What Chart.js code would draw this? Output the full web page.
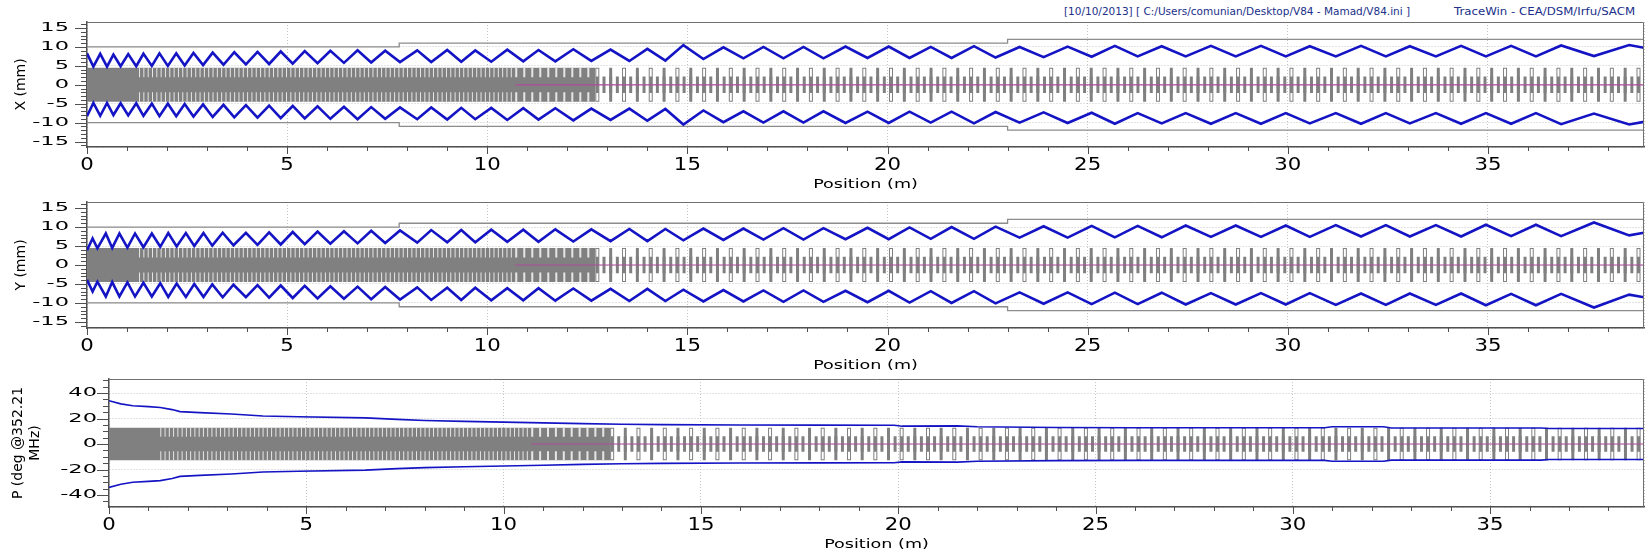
<!DOCTYPE html>
<html>
<head>
<meta charset="utf-8">
<title>TraceWin envelopes</title>
<script src="https://cdn.jsdelivr.net/npm/chart.js@4.4.1/dist/chart.umd.min.js"></script>
<style>
  body { margin: 0; background: #fff; }
  #page { position: relative; width: 1650px; height: 553px; overflow: hidden; background: #fff; }
  #page canvas { position: absolute; left: 0; }
  .head { position: absolute; top: 5px; font: 10.5px "DejaVu Sans", Verdana, sans-serif; color: #20308a;
          white-space: nowrap; transform-origin: 0 0; }
</style>
</head>
<body>
<div id="page">
  <div class="head" style="left:1064px">[10/10/2013] [ C:/Users/comunian/Desktop/V84 - Mamad/V84.ini ]</div>
  <div class="head" style="left:1454px; transform: scaleX(1.12)">TraceWin - CEA/DSM/Irfu/SACM</div>
  <canvas id="chartX" width="1650" height="195" style="top:0"></canvas>
  <canvas id="chartY" width="1650" height="196" style="top:180px"></canvas>
  <canvas id="chartP" width="1650" height="198" style="top:357px"></canvas>
</div>
<script>
// beam envelope: position (m) and half size (mm / deg)
const xEnvPos = [0, 0.16, 0.33, 0.5, 0.66, 0.84, 1.03, 1.23, 1.41, 1.62, 1.81, 2.02, 2.23, 2.44, 2.66, 2.9, 3.14, 3.41,
  3.68, 3.97, 4.26, 4.55, 4.84, 5.14, 5.44, 5.76, 6.08, 6.42, 6.76, 7.1, 7.45, 7.82, 8.25, 8.6, 9.0, 9.35, 9.7, 10.1,
  10.5, 10.9, 11.28, 11.7, 12.15, 12.6, 13.08, 13.55, 14.0, 14.45, 14.9, 15.4, 15.9, 16.4, 16.9, 17.4, 17.9, 18.4,
  18.95, 19.5, 20.03, 20.55, 21.08, 21.6, 22.16, 22.7, 23.3, 23.9, 24.5, 25.1, 25.68, 26.25, 26.85, 27.45, 28.08,
  28.7, 29.33, 29.95, 30.55, 31.2, 31.83, 32.45, 33.05, 33.7, 34.33, 34.95, 35.58, 36.2, 36.83, 37.65, 38.53, 38.9];
const xEnvVal = [8.3, 4.8, 8.2, 4.8, 8.0, 4.9, 8.1, 4.9, 8.2, 5.0, 8.3, 5.0, 8.3, 5.1, 8.4, 5.2, 8.5, 5.3,
  8.6, 5.4, 8.7, 5.5, 8.8, 5.6, 8.9, 5.7, 9.0, 5.8, 9.1, 5.9, 9.0, 6.0, 9.1, 6.0, 9.2, 6.1, 9.1, 6.1,
  9.3, 6.2, 9.2, 6.2, 9.4, 6.3, 9.3, 6.3, 9.5, 6.4, 10.5, 6.8, 9.9, 7.0, 10.0, 7.0, 10.0, 7.0,
  10.1, 7.1, 10.1, 7.1, 10.0, 7.1, 10.2, 7.2, 10.0, 7.3, 10.1, 7.4, 10.3, 7.5, 10.2, 7.5, 10.3,
  7.5, 10.3, 7.5, 10.2, 7.5, 10.3, 7.5, 10.2, 7.5, 10.3, 7.5, 10.3, 7.5, 10.4, 7.6, 10.5, 9.8];

const yEnvPos = [0, 0.14, 0.26, 0.47, 0.63, 0.81, 1.01, 1.2, 1.41, 1.62, 1.83, 2.03, 2.24, 2.47, 2.68, 2.91, 3.13, 3.39,
  3.66, 3.97, 4.26, 4.55, 4.84, 5.14, 5.44, 5.76, 6.08, 6.42, 6.76, 7.1, 7.45, 7.82, 8.25, 8.6, 9.0, 9.35, 9.7, 10.1,
  10.5, 10.9, 11.28, 11.7, 12.15, 12.6, 13.08, 13.55, 14.0, 14.45, 14.9, 15.4, 15.9, 16.4, 16.9, 17.4, 17.9, 18.4,
  18.95, 19.5, 20.03, 20.55, 21.08, 21.6, 22.16, 22.7, 23.3, 23.9, 24.5, 25.1, 25.68, 26.25, 26.85, 27.45, 28.08,
  28.7, 29.33, 29.95, 30.55, 31.2, 31.83, 32.45, 33.05, 33.7, 34.33, 34.95, 35.58, 36.2, 36.83, 37.65, 38.53, 38.9];
const yEnvVal = [3.9, 7.0, 4.4, 8.3, 4.5, 8.3, 4.6, 8.3, 4.7, 8.3, 4.8, 8.4, 4.9, 8.4, 5.0, 8.4, 5.1, 8.5,
  5.2, 8.5, 5.3, 8.6, 5.4, 8.7, 5.5, 8.8, 5.6, 8.9, 5.7, 9.0, 5.8, 9.1, 5.9, 9.2, 6.0, 9.2, 6.0, 9.3,
  6.1, 9.3, 6.1, 9.4, 6.2, 9.4, 6.3, 9.5, 6.3, 9.5, 6.5, 9.6, 6.6, 9.6, 6.7, 9.7, 6.7, 9.7,
  6.8, 9.8, 6.8, 9.9, 6.9, 10.0, 6.9, 10.1, 7.2, 10.2, 7.2, 10.3, 7.3, 10.3, 7.3, 10.4, 7.4,
  10.4, 7.4, 10.4, 7.4, 10.5, 7.5, 10.5, 7.5, 10.5, 7.5, 10.6, 7.6, 10.6, 7.6, 11.2, 7.8, 8.5];

const pEnvPos = [0, 0.3, 0.6, 1.0, 1.3, 1.6, 1.8, 2.3, 3.1, 3.9, 4.8, 6.5, 7.3, 8.0, 9.0, 10.0, 11.0, 12.0, 13.0, 14.0,
  16.0, 18.0, 19.9, 20.1, 21.5, 22.0, 24.0, 26.0, 30.8, 31.0, 32.3, 32.5, 36.3, 36.5, 38.9];
const pEnvVal = [34, 31.5, 30, 29.3, 28.7, 27, 25.4, 24.6, 23.5, 22, 21.4, 20.5, 19.3, 18.5, 17.8, 17.2, 16.6, 16.0, 15.5, 15.2,
  14.9, 14.8, 14.7, 14.0, 14.2, 13.5, 13.0, 12.8, 12.8, 13.5, 13.5, 12.6, 12.6, 12.2, 12.2];

// aperture of the line (mm)
const aperPos = [0, 7.8, 7.8, 23, 23, 38.9];
const aperVal = [10, 10, 11, 11, 12, 12];

// lattice sections (m) and the element period in each one
const sectionPos = [0, 1.3, 10.7, 12.7, 38.9];
const sectionPeriod = [0, 0.108, 0.2, 0.667];

const GRAY = '#808080', BLUE = '#1414c4', MAGENTA = '#b04a9e', APER = '#8c8c8c', GRID = '#c4c4c4', AXIS = '#505050';
const FONT = '"DejaVu Sans", Verdana, sans-serif';

const pts = (pos, val, s) => pos.map((p, i) => ({ x: p, y: s * val[i] }));
const seg = (a, b, y) => [{ x: a, y: y }, { x: b, y: y }];
const pxPerM = c => c.scales.x.getPixelForValue(1) - c.scales.x.getPixelForValue(0);
const pxPerU = c => c.scales.y.getPixelForValue(0) - c.scales.y.getPixelForValue(1);

function wideText(ctx, text, x, y, sx, align) {
  ctx.save();
  ctx.translate(x, y);
  ctx.scale(sx, 1);
  ctx.textAlign = align;
  ctx.fillText(text, 0, 0);
  ctx.restore();
}

// tick marks, tick labels (wide, like the original screenshot), x title and top-right frame
const axisDecor = {
  id: 'axisDecor',
  afterDraw(chart, args, o) {
    const { ctx, chartArea: a, scales: { x, y } } = chart;
    ctx.save();
    ctx.strokeStyle = AXIS;
    ctx.lineWidth = 1;
    ctx.beginPath();
    for (let v = 0; v <= x.max; v++) {
      const px = Math.round(x.getPixelForValue(v)) + 0.5;
      ctx.moveTo(px, a.bottom);
      ctx.lineTo(px, a.bottom + (v % 5 === 0 ? 7 : 4));
    }
    for (let v = Math.ceil(y.min / o.minor) * o.minor; v <= y.max; v += o.minor) {
      const py = Math.round(y.getPixelForValue(v)) + 0.5;
      ctx.moveTo(a.left - (v % o.major === 0 ? 12 : 6), py);
      ctx.lineTo(a.left, py);
    }
    ctx.stroke();
    ctx.strokeStyle = '#707070';
    ctx.beginPath();
    ctx.moveTo(a.left, a.top + 0.5);
    ctx.lineTo(a.right - 0.5, a.top + 0.5);
    ctx.lineTo(a.right - 0.5, a.bottom);
    ctx.stroke();

    ctx.fillStyle = '#000';
    ctx.textBaseline = 'middle';
    ctx.font = '17px ' + FONT;
    for (let v = 0; v <= x.max; v += 5) {
      wideText(ctx, String(v), x.getPixelForValue(v), a.bottom + 19, 1.25, 'center');
    }
    ctx.font = '12.5px ' + FONT;
    for (let v = Math.ceil(y.min / o.major) * o.major; v <= y.max; v += o.major) {
      wideText(ctx, String(v), a.left - o.labelPad, y.getPixelForValue(v), 1.8, 'right');
    }
    ctx.font = '13px ' + FONT;
    wideText(ctx, 'Position (m)', (a.left + a.right) / 2, a.bottom + 38, 1.35, 'center');
    ctx.restore();
  }
};

function panel(id, cfg) {
  const tall = cfg.tall, short = cfg.short, P = sectionPeriod[3];
  const datasets = [];

  // beam envelopes
  datasets.push({ data: pts(cfg.envPos, cfg.envVal, 1), borderColor: BLUE, borderWidth: cfg.envWidth, order: 1 });
  datasets.push({ data: pts(cfg.envPos, cfg.envVal, -1), borderColor: BLUE, borderWidth: cfg.envWidth, order: 1 });

  // beam axis
  datasets.push({ data: seg(sectionPos[2], sectionPos[4], 0), borderColor: MAGENTA, borderWidth: 1.2, order: 2 });

  if (cfg.aperture) {
    datasets.push({ data: pts(aperPos, aperVal, 1), borderColor: APER, borderWidth: 1.3, order: 9 });
    datasets.push({ data: pts(aperPos, aperVal, -1), borderColor: APER, borderWidth: 1.3, order: 9 });
  }

  // dense elements of the first sections
  datasets.push({ data: seg(sectionPos[0], sectionPos[3], tall), fill: { value: -tall },
    backgroundColor: GRAY, borderWidth: 0, order: 8 });

  // light slits between cells
  [1, 2].forEach(s => [1, -1].forEach(sign => {
    datasets.push({
      data: seg(sectionPos[s], sectionPos[s + 1], sign * tall * 0.72),
      borderColor: '#e6e6e6',
      borderWidth: c => tall * 0.56 * pxPerU(c.chart),
      borderDash: c => { const w = s === 1 ? 1 : 2; return [w, sectionPeriod[s] * pxPerM(c.chart) - w]; },
      order: 7
    });
  }));

  // quadrupoles (outlined / filled) and gaps of the last section
  datasets.push({
    data: seg(sectionPos[3], sectionPos[4], 0), borderColor: GRAY,
    borderWidth: c => 2 * tall * pxPerU(c.chart),
    borderDash: c => { const k = P * pxPerM(c.chart); return [4, k / 2 - 3.5, 3, k / 2 - 3.5]; },
    order: 6
  });
  datasets.push({
    data: seg(sectionPos[3], sectionPos[4], 0), borderColor: '#ffffff',
    borderWidth: c => 2 * tall * pxPerU(c.chart) - 2,
    borderDash: c => [2, P * pxPerM(c.chart) - 2],
    borderDashOffset: -1,
    order: 5
  });
  datasets.push({
    data: seg(sectionPos[3], sectionPos[4], 0), borderColor: GRAY,
    borderWidth: c => 2 * short * pxPerU(c.chart),
    borderDash: c => [3, P * pxPerM(c.chart) / 4 - 3],
    borderDashOffset: -0.5,
    order: 4
  });

  return new Chart(document.getElementById(id), {
    type: 'line',
    data: { datasets },
    options: {
      responsive: false,
      animation: false,
      events: [],
      layout: { padding: { top: 22, right: 6, left: 0, bottom: 0 } },
      elements: { point: { radius: 0 }, line: { tension: 0, borderCapStyle: 'butt' } },
      plugins: {
        legend: { display: false },
        tooltip: { enabled: false },
        axisDecor: { minor: cfg.minor, major: cfg.major, labelPad: cfg.labelPad }
      },
      scales: {
        x: {
          type: 'linear', min: 0, max: 38.9,
          afterFit: s => { s.height = 48; },
          ticks: { stepSize: 5, display: false },
          grid: { drawTicks: false, color: GRID },
          border: { color: AXIS, width: 1.5, dash: [1, 2] }
        },
        y: {
          min: cfg.yMin, max: cfg.yMax,
          afterFit: s => { s.width = cfg.axisW; },
          ticks: { stepSize: cfg.major, display: false },
          grid: { drawTicks: false, color: GRID },
          border: { color: AXIS, width: 1.5, dash: [1, 2] },
          title: { display: true, text: cfg.title, color: '#000', font: { family: FONT, size: 14 },
            padding: { top: cfg.titlePad, bottom: 0 } }
        }
      }
    },
    plugins: [axisDecor]
  });
}

panel('chartX', { envPos: xEnvPos, envVal: xEnvVal, envWidth: 2.6, aperture: true, tall: 4.5, short: 2.2,
  yMin: -16.45, yMax: 16.6, minor: 1, major: 5, axisW: 87, labelPad: 18, title: 'X (mm)', titlePad: 13 });
panel('chartY', { envPos: yEnvPos, envVal: yEnvVal, envWidth: 2.6, aperture: true, tall: 4.5, short: 2.2,
  yMin: -16.6, yMax: 16.6, minor: 1, major: 5, axisW: 87, labelPad: 18, title: 'Y (mm)', titlePad: 13 });
panel('chartP', { envPos: pEnvPos, envVal: pEnvVal, envWidth: 1.6, aperture: false, tall: 12.8, short: 6,
  yMin: -49.4, yMax: 51, minor: 5, major: 20, axisW: 109, labelPad: 12, title: ['P (deg @352.21', 'MHz)'], titlePad: 10 });
</script>
</body>
</html>
